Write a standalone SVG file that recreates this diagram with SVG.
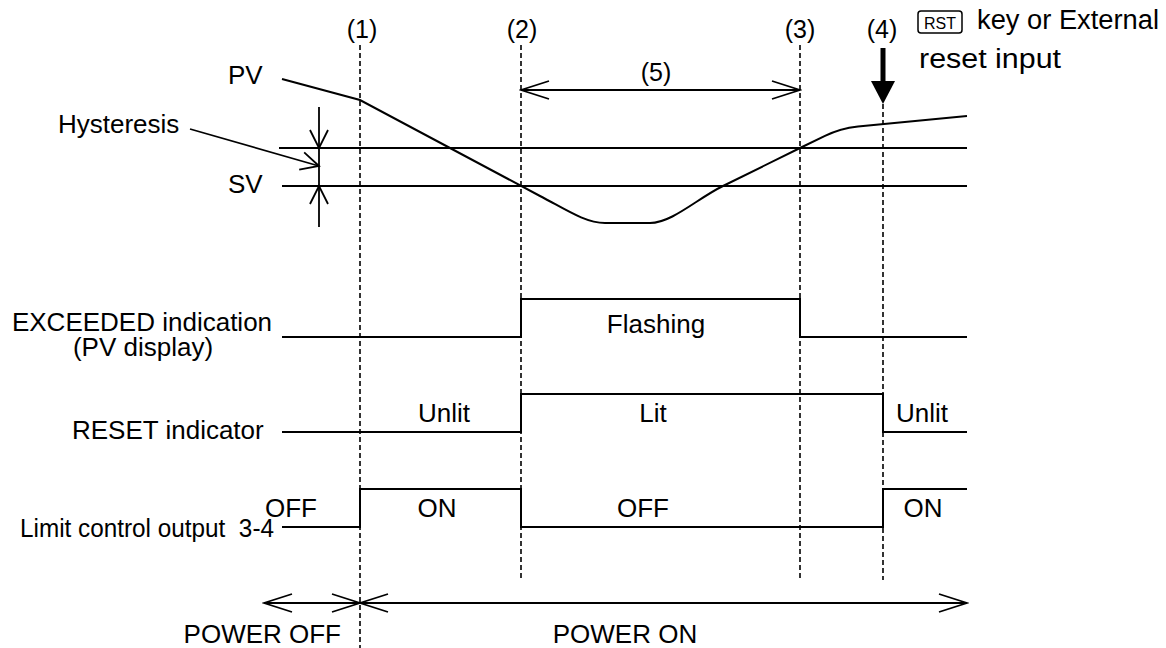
<svg xmlns="http://www.w3.org/2000/svg" width="1166" height="648" viewBox="0 0 1166 648">
<style>
text{font-family:"Liberation Sans",Arial,sans-serif;font-size:26px;fill:#000}
.p{font-size:25px}
.tr{font-size:27px}
.sig{fill:none;stroke:#000;stroke-width:2}
.dash{fill:none;stroke:#000;stroke-width:1.6;stroke-dasharray:5 3}
.arw{fill:none;stroke:#000;stroke-width:1.8}
</style>
<defs>
<marker id="big" viewBox="-30 -12 32 24" refX="0" refY="0" markerWidth="32" markerHeight="24" markerUnits="userSpaceOnUse" orient="auto-start-reverse">
<path d="M-28,-9 L0,0 L-28,9" fill="none" stroke="#000" stroke-width="1.8"/>
</marker>
<marker id="sm" viewBox="-20 -12 22 24" refX="0" refY="0" markerWidth="22" markerHeight="24" markerUnits="userSpaceOnUse" orient="auto-start-reverse">
<path d="M-18,-9 L0,0 L-18,9" fill="none" stroke="#000" stroke-width="1.8"/>
</marker>
</defs>

<g id="markers-dashed">
<line class="dash" x1="360" y1="45" x2="360" y2="648"/>
<line class="dash" x1="521" y1="45" x2="521" y2="580"/>
<line class="dash" x1="800" y1="45" x2="800" y2="580"/>
<line class="dash" x1="883" y1="104" x2="883" y2="580"/>
</g>

<g id="labels-top">
<text class="p" x="362" y="38" text-anchor="middle">(1)</text>
<text class="p" x="522" y="38" text-anchor="middle">(2)</text>
<text class="p" x="800" y="38" text-anchor="middle">(3)</text>
<text class="p" x="882" y="38" text-anchor="middle">(4)</text>
<text class="p" x="656" y="81" text-anchor="middle">(5)</text>
</g>

<g id="reset-key">
<rect x="918" y="11" width="44" height="22" rx="3" ry="3" fill="none" stroke="#000" stroke-width="1.5"/>
<text x="940" y="29" text-anchor="middle" style="font-size:16px" textLength="32" lengthAdjust="spacingAndGlyphs">RST</text>
<text class="tr" x="977" y="29" textLength="182" lengthAdjust="spacingAndGlyphs">key or External</text>
<text class="tr" x="919" y="68" textLength="142" lengthAdjust="spacingAndGlyphs">reset input</text>
<line x1="883" y1="48" x2="883" y2="84" stroke="#000" stroke-width="5"/>
<polygon points="871,81 895,81 883,104" fill="#000"/>
</g>

<g id="pv-chart">
<text x="228" y="84">PV</text>
<text x="58" y="133">Hysteresis</text>
<text x="228" y="193">SV</text>
<line class="sig" x1="279" y1="148" x2="967" y2="148"/>
<line class="sig" x1="282" y1="186" x2="967" y2="186"/>
<path class="sig" d="M282,79 L360,100 L540,196 C565,209 585,223 605,223 L650,223 C672,223 698,198 723,186 L800,148 L825,135.8 Q840,128.4 858,126.4 L967,116"/>
</g>

<g id="connectors">
<line class="arw" x1="319" y1="107" x2="319" y2="148" marker-end="url(#sm)"/>
<line class="arw" x1="319" y1="148" x2="319" y2="186"/>
<line class="arw" x1="319" y1="227" x2="319" y2="186" marker-end="url(#sm)"/>
<line class="arw" x1="190" y1="129" x2="319" y2="166" marker-end="url(#sm)"/>
<line class="arw" x1="521" y1="90" x2="800" y2="90" marker-start="url(#big)" marker-end="url(#big)"/>
<line class="arw" x1="264" y1="603" x2="360" y2="603" marker-start="url(#big)" marker-end="url(#big)"/>
<line class="arw" x1="360" y1="603" x2="967" y2="603" marker-start="url(#big)" marker-end="url(#big)"/>
</g>

<g id="exceeded">
<text x="142" y="331" text-anchor="middle">EXCEEDED indication</text>
<text x="143" y="356" text-anchor="middle">(PV display)</text>
<path class="sig" d="M282,337 H521 V299 H800 V337 H967"/>
<text x="656" y="333" text-anchor="middle">Flashing</text>
</g>

<g id="reset-indicator">
<text x="72" y="439">RESET indicator</text>
<path class="sig" d="M282,432 H521 V394 H883 V432 H967"/>
<text x="444" y="422" text-anchor="middle">Unlit</text>
<text x="653" y="422" text-anchor="middle">Lit</text>
<text x="922" y="422" text-anchor="middle">Unlit</text>
</g>

<g id="limit-output">
<text x="20" y="537" textLength="254" lengthAdjust="spacingAndGlyphs">Limit control output&#160; 3-4</text>
<path class="sig" d="M282,527 H360 V489 H521 V527 H883 V489 H967"/>
<text x="291" y="517" text-anchor="middle">OFF</text>
<text x="437" y="517" text-anchor="middle">ON</text>
<text x="643" y="517" text-anchor="middle">OFF</text>
<text x="923" y="517" text-anchor="middle">ON</text>
</g>

<g id="power">
<text x="341" y="643" text-anchor="end">POWER OFF</text>
<text x="625" y="643" text-anchor="middle">POWER ON</text>
</g>
</svg>
